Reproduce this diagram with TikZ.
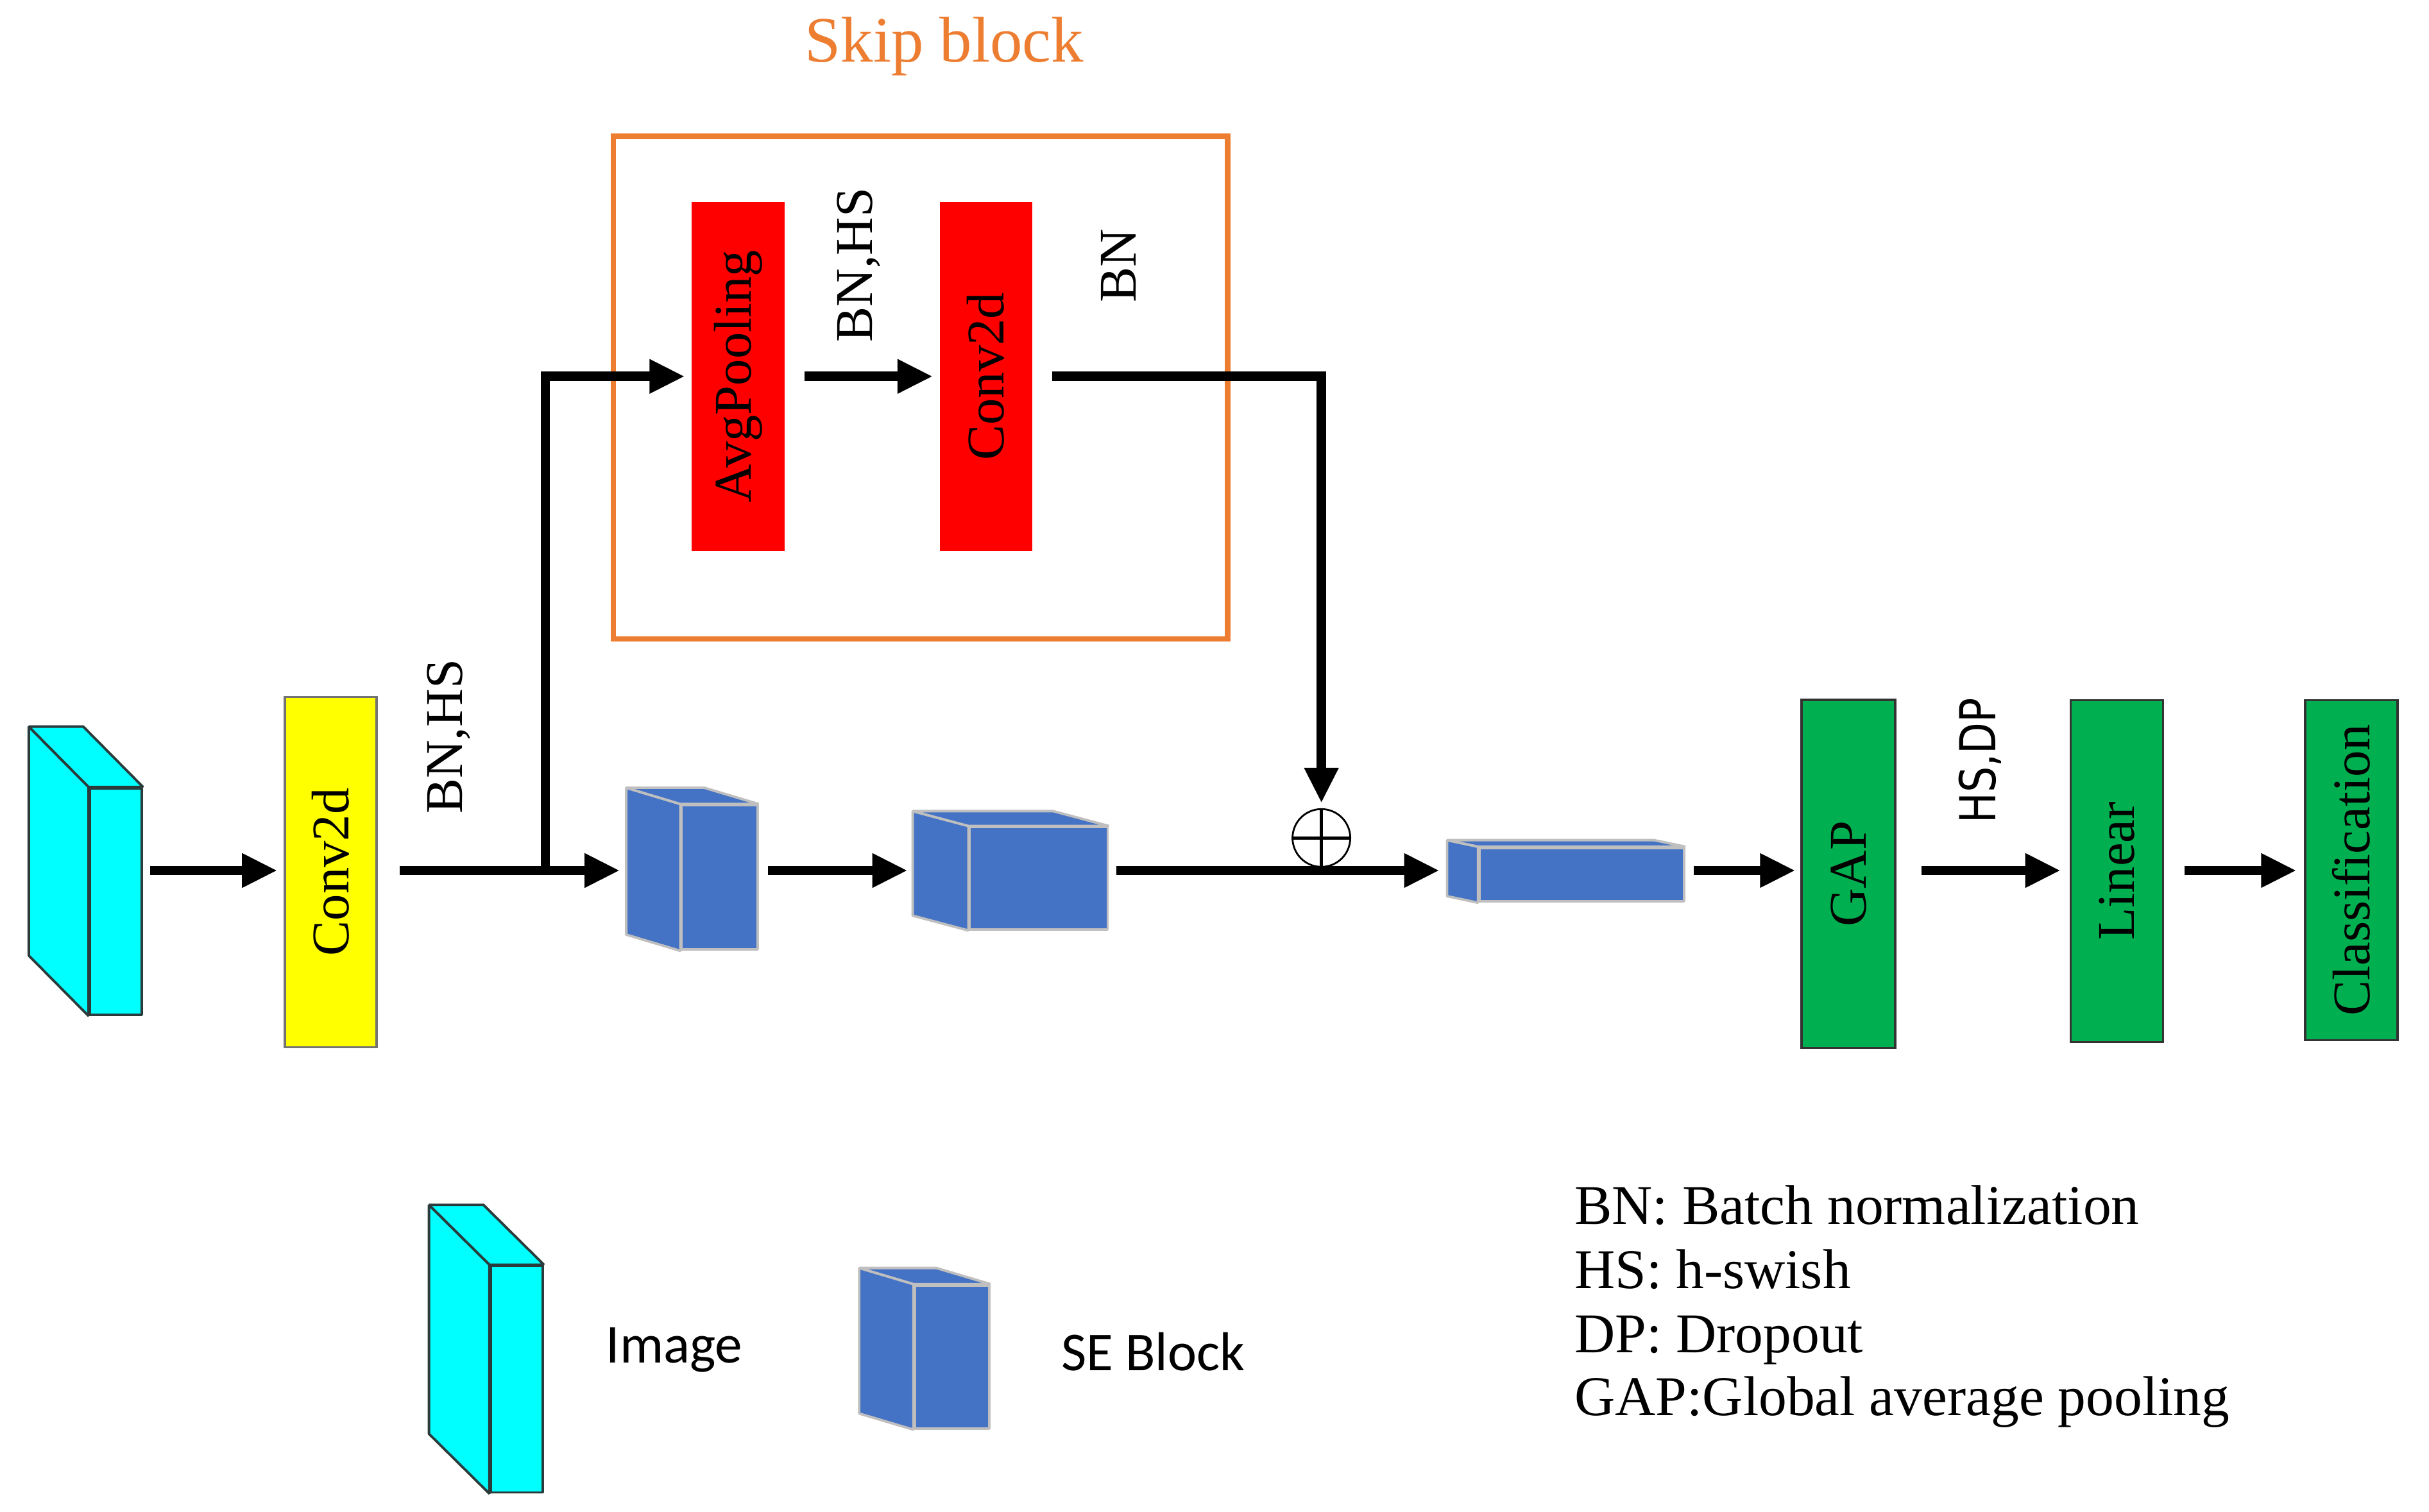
\documentclass[tikz,border=0pt]{standalone}
\usepackage{fontspec}
\setmainfont{Liberation Serif}
\newfontfamily\calfont{Carlito}
\newfontfamily\dvfont{DejaVu Sans}
\usepackage{graphicx}
\usetikzlibrary{arrows.meta,calc}
\definecolor{skiporange}{HTML}{ED7D31}
\definecolor{seblue}{HTML}{4472C4}
\definecolor{segrey}{HTML}{BFBFBF}
\definecolor{imgcyan}{HTML}{00FFFF}
\definecolor{imgedge}{HTML}{2B3A3A}
\definecolor{convyel}{HTML}{FFFF00}
\definecolor{headgreen}{HTML}{00B050}
\tikzset{
  arr/.style={-{Triangle[length=0.55cm,width=0.5cm]},line width=4.2pt,shorten >=0.1cm},
  blk/.style={rectangle,inner sep=0pt,minimum width=1.45cm,font=\fontsize{23.5}{28}\selectfont},
  convblk/.style={blk,fill=convyel,draw=black!55,line width=1pt},
  skipblk/.style={blk,fill=red},
  headblk/.style={blk,fill=headgreen,draw=black!80,line width=1pt},
  imgface/.style={fill=imgcyan,draw=imgedge,line width=1.1pt,line join=bevel},
  seface/.style={fill=seblue,draw=segrey,line width=1.1pt,line join=bevel},
  imgslab/.style={imgface,rectangle,inner sep=0pt,minimum width=0.81cm,minimum height=3.53cm},
  seslab/.style={seface,rectangle,inner sep=0pt},
  oplab/.style={rotate=90,inner sep=0pt,font=\fontsize{23.5}{28}\selectfont},
  skipbox/.style={draw=skiporange,line width=2.4pt},
  legl/.style={anchor=base west,inner sep=0pt,font=\fontsize{24.9}{28}\selectfont},
}
% side and top faces of a box, #1 front node, #2 depth offset, #3 style
\newcommand{\slab}[3]{%
  \draw[#3] (#1.north west) -- ++(#2) coordinate (#1b) -- ($(#1.south west)+(#2)$) -- (#1.south west) -- cycle;
  \draw[#3] (#1.north west) -- (#1b) -- ($(#1.north east)+(#2)$) -- (#1.north east) -- cycle;
}

\begin{document}
\begin{tikzpicture}[x=0.024146cm,y=0.024146cm]
  \useasboundingbox (0,0) rectangle (1568,-976);
  \coordinate (row) at (0,-562);

  % skip block
  \node[font=\fontsize{28.7}{34}\selectfont,text=skiporange,anchor=base] (title) at (609.5,-40) {Skip block};
  \draw[skipbox] (396,-88) rectangle (792.5,-412.4);
  \node[skipblk,minimum height=5.44cm] (avg) at (476.5,-243) {\rotatebox{90}{AvgPooling}};
  \node[skipblk,minimum width=1.44cm,minimum height=5.44cm] (convb) at (636.4,-243) {\rotatebox{90}{Conv2d}};
  \node[oplab] (bnhs2) at (554.5,-171) {BN,HS};
  \node[oplab] (bn) at (722,-171.6) {BN};

  % main path
  \node[imgslab] (img) at (74.75,-582) {};
  \slab{img}{-38.6,39}{imgface}
  \node[convblk,minimum width=1.43cm,minimum height=5.46cm] (conva) at (213.5,-563) {\rotatebox{90}{Conv2d}};
  \node[oplab] (bnhs1) at (289.7,-475.6) {BN,HS};
  \node[seslab,minimum width=1.18cm,minimum height=2.25cm] (se1) at (464.5,-566.5) {};
  \slab{se1}{-35,10.5}{seface}
  \node[seslab,minimum width=2.15cm,minimum height=1.59cm] (se2) at (670.5,-567) {};
  \slab{se2}{-36,9.6}{seface}
  \node[seslab,minimum width=3.19cm,minimum height=0.835cm] (se3) at (1021,-564.7) {};
  \slab{se3}{-20,4.2}{seface}
  \node[circle,draw,line width=0.8pt,minimum size=0.9cm,inner sep=0pt] (plus) at (853,-541) {};
  \draw[line width=1.5pt] (plus.north) -- (plus.south) (plus.west) -- (plus.east);
  \node[headblk,minimum width=1.46cm,minimum height=5.42cm] (gap) at (1193.2,-564.2) {\rotatebox{90}{GAP}};
  \node[rotate=90,inner sep=0pt] (hsdp) at (1278.3,-491) {\scalebox{0.82}[1]{\dvfont\fontsize{22}{26}\selectfont HS,DP}};
  \node[headblk,minimum width=1.44cm,minimum height=5.33cm] (lin) at (1366.5,-562.4) {\rotatebox{90}{Linear}};
  \node[headblk,minimum width=1.44cm,minimum height=5.3cm] (cls) at (1517.9,-561.8) {\rotatebox{90}{Classification}};

  % arrows
  \coordinate (split) at (352,-562);
  \draw[arr,shorten <=0.11cm] (img.east |- row) -- (conva.west |- row);
  \draw[arr,shorten <=0.34cm] (conva.east |- row) -- (se1b |- row);
  \draw[arr] (split) |- (avg.west);
  \draw[arr,shorten <=0.3cm] (avg.east) -- (convb.west);
  \draw[arr,shorten <=0.31cm,shorten >=0.08cm] (convb.east) -| (plus.north);
  \draw[arr,shorten <=0.145cm,shorten >=0.08cm] (se1.east |- row) -- (se2b |- row);
  \draw[arr,shorten <=0.12cm,shorten >=0.12cm] (se2.east |- row) -- (se3b |- row);
  \draw[arr,shorten <=0.13cm,shorten >=0.08cm] (se3.east |- row) -- (gap.west |- row);
  \draw[arr,shorten <=0.39cm,shorten >=0.14cm] (gap.east |- row) -- (lin.west |- row);
  \draw[arr,shorten <=0.32cm,shorten >=0.12cm] (lin.east |- row) -- (cls.west |- row);

  % legend
  \node[imgslab] (limg) at (333.5,-890.4) {};
  \slab{limg}{-39,38.6}{imgface}
  \node[anchor=base west,inner sep=0pt,font=\calfont\fontsize{24.3}{28}\selectfont] (limgt) at (390.9,-880) {Image};
  \node[seslab,minimum width=1.16cm,minimum height=2.23cm] (lse) at (614.5,-876) {};
  \slab{lse}{-35,10.4}{seface}
  \node[anchor=base west,inner sep=0pt,font=\calfont\fontsize{24.3}{28}\selectfont] (lset) at (684.8,-884.9) {SE Block};
  \node[legl] (lg1) at (1016.2,-790.3) {BN: Batch normalization};
  \node[legl] (lg2) at (1016.2,-831.7) {HS: h-swish};
  \node[legl] (lg3) at (1016.2,-873.1) {DP: Dropout};
  \node[legl] (lg4) at (1016.2,-913.9) {GAP:Global average pooling};
\end{tikzpicture}
\end{document}
